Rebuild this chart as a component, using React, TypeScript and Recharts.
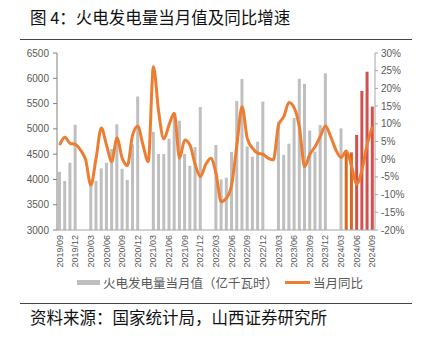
import React from "react";
import { ComposedChart, Bar, Line, XAxis, YAxis, Cell } from "recharts";

const months = [
	"2019/09", "2019/10", "2019/11", "2019/12",
	"2020/01", "2020/02", "2020/03", "2020/04", "2020/05", "2020/06", "2020/07", "2020/08", "2020/09", "2020/10", "2020/11", "2020/12",
	"2021/01", "2021/02", "2021/03", "2021/04", "2021/05", "2021/06", "2021/07", "2021/08", "2021/09", "2021/10", "2021/11", "2021/12",
	"2022/01", "2022/02", "2022/03", "2022/04", "2022/05", "2022/06", "2022/07", "2022/08", "2022/09", "2022/10", "2022/11", "2022/12",
	"2023/01", "2023/02", "2023/03", "2023/04", "2023/05", "2023/06", "2023/07", "2023/08", "2023/09", "2023/10", "2023/11", "2023/12",
	"2024/01", "2024/02", "2024/03", "2024/04", "2024/05", "2024/06", "2024/07", "2024/08", "2024/09",
];

// 火电发电量当月值（亿千瓦时），1、2月无单月数据
const output = [
	4150, 3970, 4330, 5080,
	null, null, 3900, 3970, 4220, 4330, 4600, 5090, 4210, 3990, 4695, 5640,
	null, null, 4940, 4505, 4500, 4805, 5300, 5160, 4505, 4270, 4640, 5430,
	null, null, 4680, 4000, 4035, 4545, 5550, 5985, 4650, 4450, 4745, 5540,
	null, null, 5140, 4485, 4705, 5215, 5990, 5890, 4965, 4550, 5075, 6100,
	null, null, 5010, 4570, 4535, 4880, 5750, 6130, 5440,
];

// 当月同比 (%)
const yoy = [
	4.0, 6.2, 4.5, 4.2,
	2.6, -0.2, -7.3, 0.3, 8.8, 4.0, -0.7, 6.0, 0.3, -1.8, 6.8, 9.3,
	4.0, -0.7, 26.1, 13.4, 5.7, 9.7, 13.0, 0.3, 5.4, 4.0, -1.5, -4.9,
	-1.6, 0.3, -4.0, -12.0, -11.0, -7.3, 4.0, 14.8, 5.9, 3.1, 1.7, 1.4,
	0.3, -0.2, 9.7, 12.0, 16.0, 14.5, 9.0, -2.1, 1.4, 3.5, 6.4, 9.4,
	6.4, 2.6, 0.5, 2.3, -2.0, -7.0, -3.0, 4.2, 9.2,
];

const orangeMonths = ["2024/04", "2024/05"];
const redMonths = ["2024/06", "2024/07", "2024/08", "2024/09"];

const leftTicks = [3000, 3500, 4000, 4500, 5000, 5500, 6000, 6500];
const rightTicks = [-20, -15, -10, -5, 0, 5, 10, 15, 20, 25, 30];

const data = months.map((m, i) => ({ month: m, output: output[i], yoy: yoy[i] }));

const numFont = "'Liberation Sans', Arial, sans-serif";
const cjkFont = "'Noto Sans CJK SC', sans-serif";

function barColor(m: string) {
	if (orangeMonths.includes(m)) return "#D9691A";
	if (redMonths.includes(m)) return "#D2504E";
	return "#BFBFBF";
}

const MonthTick = (props: any) => {
	const { x, y, payload } = props;
	return (
		<text
			x={x}
			y={y}
			transform={`rotate(-90 ${x} ${y})`}
			textAnchor='end'
			dominantBaseline='central'
			fontSize={9}
			fontFamily={numFont}
			fill='#595959'
		>
			{payload.value}
		</text>
	);
};

export default function App() {
	return (
		<div
			style={{
				position: "absolute",
				left: 0,
				top: 0,
				width: 426,
				height: 339,
				background: "#fff",
				overflow: "hidden",
			}}
		>
			<div
				style={{
					position: "absolute",
					left: 30,
					top: 6,
					fontFamily: cjkFont,
					fontSize: 16.5,
					lineHeight: "22px",
					color: "#111",
					whiteSpace: "nowrap",
				}}
			>
				图 4：火电发电量当月值及同比增速
			</div>
			<div style={{ position: "absolute", left: 20, top: 39, width: 392, height: 0, borderTop: "1.5px solid #444" }} />

			<div style={{ position: "absolute", left: 0, top: 0 }}>
				<ComposedChart
					width={426}
					height={270}
					data={data}
					margin={{ top: 53, right: 6, bottom: 5, left: 7 }}
				>
					<XAxis
						dataKey='month'
						interval={2}
						height={35}
						tickSize={3}
						tickMargin={2}
						tickLine={false}
						axisLine={{ stroke: "#A6A6A6" }}
						tick={<MonthTick />}
					/>
					<YAxis
						yAxisId='left'
						width={50}
						domain={[3000, 6500]}
						ticks={leftTicks}
						tickSize={4}
						tickMargin={4}
						axisLine={{ stroke: "#808080" }}
						tickLine={{ stroke: "#808080" }}
						tick={{ fontSize: 10, fill: "#595959", fontFamily: numFont }}
					/>
					<YAxis
						yAxisId='right'
						orientation='right'
						width={45}
						domain={[-20, 30]}
						ticks={rightTicks}
						tickSize={3}
						tickMargin={3}
						tickFormatter={(v: number) => `${v}%`}
						axisLine={{ stroke: "#A6A6A6" }}
						tickLine={{ stroke: "#A6A6A6" }}
						tick={{ fontSize: 10, fill: "#595959", fontFamily: numFont }}
					/>
					<Bar yAxisId='left' dataKey='output' barSize={3} isAnimationActive={false}>
						{data.map((d, i) => (
							<Cell key={i} fill={barColor(d.month)} />
						))}
					</Bar>
					<Line
						yAxisId='right'
						type='monotone'
						dataKey='yoy'
						stroke='#ED7D31'
						strokeWidth={3}
						dot={false}
						isAnimationActive={false}
					/>
				</ComposedChart>
			</div>

			<div
				style={{
					position: "absolute",
					top: 274,
					left: 77,
					display: "flex",
					alignItems: "center",
					fontFamily: cjkFont,
					fontSize: 12.5,
					lineHeight: "17px",
					color: "#595959",
					whiteSpace: "nowrap",
				}}
			>
				<span style={{ display: "inline-block", width: 23, height: 5, background: "#BFBFBF", marginRight: 3 }} />
				<span>火电发电量当月值（亿千瓦时）</span>
				<span style={{ display: "inline-block", width: 25, height: 3, background: "#ED7D31", marginLeft: 7, marginRight: 3 }} />
				<span>当月同比</span>
			</div>

			<div style={{ position: "absolute", left: 20, top: 303, width: 392, height: 0, borderTop: "1.5px solid #444" }} />
			<div
				style={{
					position: "absolute",
					left: 30,
					top: 306,
					fontFamily: cjkFont,
					fontSize: 16.5,
					lineHeight: "22px",
					color: "#111",
					whiteSpace: "nowrap",
				}}
			>
				资料来源：国家统计局，山西证券研究所
			</div>
		</div>
	);
}
